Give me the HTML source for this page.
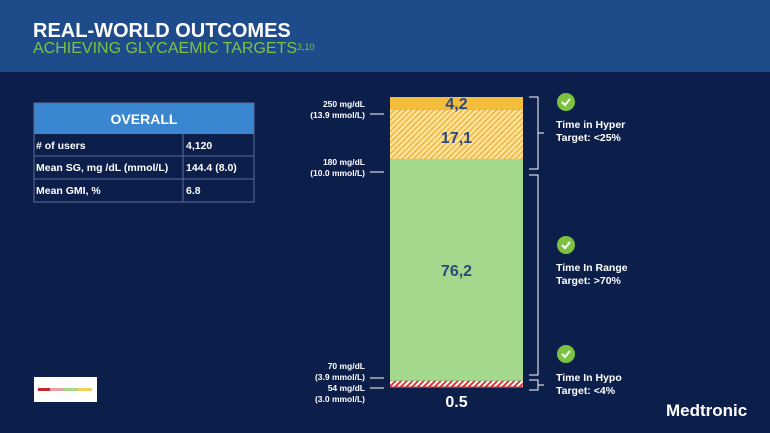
<!DOCTYPE html>
<html><head><meta charset="utf-8"><style>
body{margin:0;width:770px;height:433px;overflow:hidden;background:#0c1f4b;font-family:"Liberation Sans",sans-serif}
svg{display:block}
</style></head><body>
<svg width="770" height="433">
<defs>
<pattern id="hy" width="4" height="4" patternUnits="userSpaceOnUse" patternTransform="rotate(45)"><rect width="4" height="4" fill="#fbe3a0"/><rect width="1.5" height="4" fill="#f2b53a"/></pattern>
<pattern id="ho" width="4" height="4" patternUnits="userSpaceOnUse" patternTransform="rotate(45)"><rect width="4" height="4" fill="#fff"/><rect width="2" height="4" fill="#d9383a"/></pattern>
</defs>
<rect width="770" height="72" fill="#1e4c8a"/>
<text x="33" y="37" fill="#fff" font-size="20" font-weight="bold">REAL-WORLD OUTCOMES</text>
<text x="33" y="53" fill="#7cc241" font-size="16">ACHIEVING GLYCAEMIC TARGETS<tspan font-size="9" dy="-3">3,10</tspan></text>
<g font-size="10.5" font-weight="bold" fill="#fff">
<rect x="34" y="103" width="220" height="31" fill="#3b86d0"/>
<text x="144" y="124" text-anchor="middle" font-size="14" fill="#fff">OVERALL</text>
<g stroke="#5b6f9a" fill="none" stroke-width="1"><rect x="34" y="103" width="220" height="99"/><line x1="34" y1="156" x2="254" y2="156"/><line x1="34" y1="179" x2="254" y2="179"/><line x1="183" y1="134" x2="183" y2="202"/></g>
<text x="36" y="149">#  of  users</text><text x="186" y="149">4,120</text>
<text x="36" y="171">Mean SG, mg /dL (mmol/L)</text><text x="186" y="171">144.4 (8.0)</text>
<text x="36" y="194">Mean GMI, %</text><text x="186" y="194">6.8</text>
</g>
<g><rect x="34" y="377" width="63" height="25" fill="#fff"/>
<rect x="38" y="388" width="12" height="3" fill="#c0272d"/><rect x="50" y="388" width="14" height="3" fill="#e9a0a2"/><rect x="64" y="388" width="14" height="3" fill="#a4d88c"/><rect x="78" y="388" width="14" height="3" fill="#f6cf5a"/></g>
<g id="bars"></g>
<g fill="#fff" font-size="8.5" font-weight="bold" text-anchor="end">
<text x="365" y="107">250 mg/dL</text><text x="365" y="118">(13.9 mmol/L)</text>
<text x="365" y="165">180 mg/dL</text><text x="365" y="176">(10.0 mmol/L)</text>
<text x="365" y="369">70 mg/dL</text><text x="365" y="380">(3.9 mmol/L)</text>
<text x="365" y="391">54 mg/dL</text><text x="365" y="402">(3.0 mmol/L)</text>
<g stroke="#fff" stroke-width="1"><line x1="370" y1="114" x2="384" y2="114"/><line x1="370" y1="172" x2="384" y2="172"/><line x1="370" y1="378" x2="384" y2="378"/><line x1="370" y1="388" x2="384" y2="388"/></g>
</g>
<g stroke="#fff" fill="none" stroke-width="1">
<path d="M529 97H538V169H529M538 133H544"/><path d="M529 175H538V375H529"/><path d="M529 380H538V390H529M538 385H544"/></g>
<g fill="#fff" font-size="10.5" font-weight="bold">
<circle cx="566" cy="102" r="9" fill="#7cc241"/><path d="M562 102l3 3 5-6" stroke="#fff" stroke-width="2" fill="none"/>
<text x="556" y="128">Time in Hyper</text><text x="556" y="141">Target: &lt;25%</text>
<circle cx="566" cy="245" r="9" fill="#7cc241"/><path d="M562 245l3 3 5-6" stroke="#fff" stroke-width="2" fill="none"/>
<text x="556" y="271">Time In Range</text><text x="556" y="284">Target: &gt;70%</text>
<circle cx="566" cy="354" r="9" fill="#7cc241"/><path d="M562 354l3 3 5-6" stroke="#fff" stroke-width="2" fill="none"/>
<text x="556" y="381">Time In Hypo</text><text x="556" y="394">Target: &lt;4%</text>
</g>
<text x="666" y="416" fill="#fff" font-size="17" font-weight="bold">Medtronic</text>
</svg>
<script>
const categories=["<54","54-70","70-180","180-250",">250"];
const values=[0.5,2,76.2,17.1,4.2];
const labels=["0.5","2","76,2","17,1","4,2"];
const fills=["#c0272d","url(#ho)","#a4d88c","url(#hy)","#f4bd3c"];
const y0=388,y1=97,x=390,w=133;
const total=values.reduce((a,b)=>a+b,0);
const yScale=v=>(y0-y1)*v/total;
const g=document.getElementById('bars');const ns="http://www.w3.org/2000/svg";
let cur=y0;
values.forEach((v,i)=>{const h=yScale(v);cur-=h;
const r=document.createElementNS(ns,'rect');r.setAttribute('x',x);r.setAttribute('y',cur);r.setAttribute('width',w);r.setAttribute('height',h);r.setAttribute('fill',fills[i]);


g.appendChild(r);
const t=document.createElementNS(ns,'text');
let ty=cur+h/2+6, col="#2a4a7f";
if(i===0){ty=y0+19;col="#fff";} if(i===1){ty=cur-1;} if(i===3){ty=cur+h/2+9;}
t.setAttribute('x',x+w/2);t.setAttribute('y',ty);t.setAttribute('text-anchor','middle');t.setAttribute('font-size','16');t.setAttribute('font-weight','bold');t.setAttribute('fill',col);t.textContent=labels[i];


g.appendChild(t);});
</script>
</body></html>
